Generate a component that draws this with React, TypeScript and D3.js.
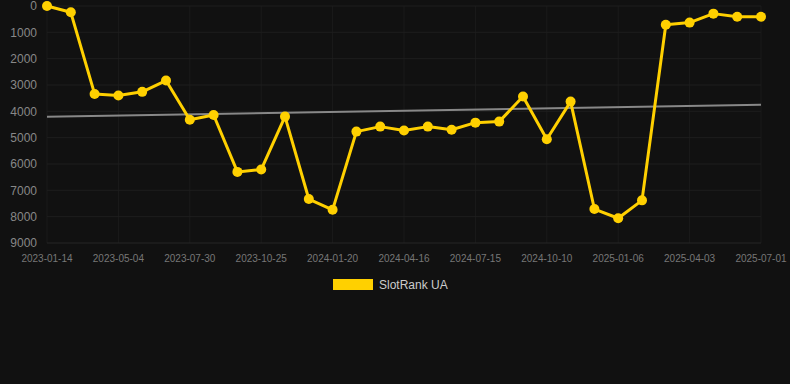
import React from "react";
import * as d3 from "d3";

const categories = [
  "2023-01-14","2023-02-13","2023-04-05","2023-05-04","2023-06-02","2023-07-01",
  "2023-07-30","2023-08-28","2023-09-26","2023-10-25","2023-11-23","2023-12-22",
  "2024-01-20","2024-02-18","2024-03-18","2024-04-16","2024-05-16","2024-06-15",
  "2024-07-15","2024-08-13","2024-09-11","2024-10-10","2024-11-08","2024-12-08",
  "2025-01-06","2025-02-04","2025-03-05","2025-04-03","2025-05-03","2025-06-01",
  "2025-07-01",
];
const rankValues = [
  0, 240, 3340, 3400, 3260, 2830,
  4320, 4140, 6300, 6210, 4200, 7330,
  7740, 4770, 4580, 4730, 4580, 4700,
  4430, 4390, 3440, 5060, 3630, 7710,
  8060, 7380, 710, 630, 290, 410,
  410,
];
const trendValues = [4210, 3750];
const yTicks = [0, 1000, 2000, 3000, 4000, 5000, 6000, 7000, 8000, 9000];
const seriesName = "SlotRank UA";

const W = 790, H = 384;
const gold = "#FFD000";
const font = "'Liberation Sans', Arial, sans-serif";

export default function App() {
  const x = d3.scalePoint<string>().domain(categories).range([47, 761]);
  const y = d3.scaleLinear().domain([0, 9000]).range([6, 243]);
  const line = d3
    .line<number>()
    .x((_, i) => x(categories[i]) as number)
    .y((d) => y(d));
  const labelIdx = categories.map((_, i) => i).filter((i) => i % 3 === 0);
  const first = categories[0], last = categories[categories.length - 1];
  return (
    <div style={{ position: "absolute", left: 0, top: 0 }}>
      <svg width={W} height={H} style={{ display: "block", background: "#111111" }}>
        <rect width={W} height={H} fill="#111111" />
        {labelIdx.map((i) => (
          <line key={"gx" + i} x1={x(categories[i])} x2={x(categories[i])} y1={6} y2={243} stroke="#1b1b1b" strokeWidth={1} />
        ))}
        {yTicks.map((t) => (
          <line key={"gy" + t} x1={47} x2={761} y1={y(t)} y2={y(t)} stroke={t === 9000 ? "#262626" : "#1e1e1e"} strokeWidth={1} />
        ))}
        {yTicks.map((t) => (
          <text key={"ty" + t} x={37} y={y(t)} dy="0.35em" textAnchor="end" fill="#888888" fontSize={12} fontFamily={font}>
            {t}
          </text>
        ))}
        {labelIdx.map((i) => (
          <text key={"tx" + i} x={x(categories[i])} y={262} textAnchor="middle" fill="#777777" fontSize={10} fontFamily={font}>
            {categories[i]}
          </text>
        ))}
        <line x1={x(first)} x2={x(last)} y1={y(trendValues[0])} y2={y(trendValues[1])} stroke="#888888" strokeWidth={2} />
        <path d={line(rankValues) || ""} fill="none" stroke={gold} strokeWidth={3} strokeLinejoin="round" />
        {rankValues.map((v, i) => (
          <circle key={"p" + i} cx={x(categories[i])} cy={y(v)} r={5} fill={gold} />
        ))}
        <rect x={333} y={279} width={40} height={11} fill={gold} />
        <text x={379} y={289} fill="#cccccc" fontSize={12} fontFamily={font}>
          {seriesName}
        </text>
      </svg>
    </div>
  );
}
